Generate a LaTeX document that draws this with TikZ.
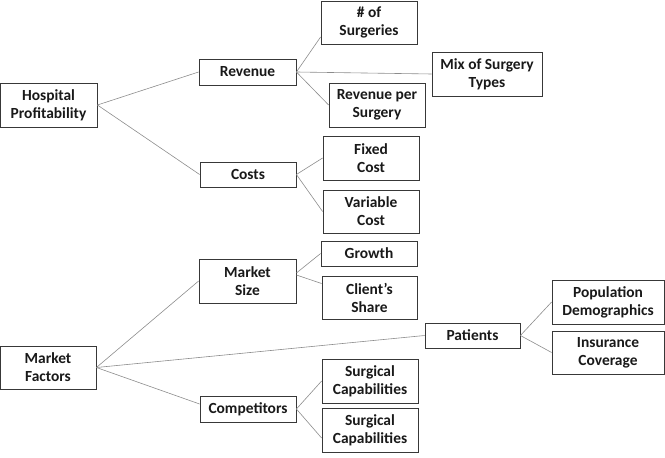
\documentclass[tikz,border=0pt]{standalone}
\usepackage{fontspec}
\setmainfont{Carlito}
\begin{document}
\begin{tikzpicture}[x=1bp,y=-1bp,
  box/.style={draw=black!78,line width=0.8bp,fill=white,font=\bfseries\fontsize{15.5}{18}\selectfont,
    align=center,inner sep=0pt,text=black!90},
  link/.style={draw=black!45,line width=0.6bp}]
\useasboundingbox (0,0) rectangle (665,458);
\node[box,minimum width=97bp,minimum height=44bp] (hp) at (48.5,105) {Hospital\\Profitability};
\node[box,minimum width=97bp,minimum height=26bp] (rev) at (247.5,72) {Revenue};
\node[box,minimum width=96bp,minimum height=25bp] (cost) at (248,174.5) {Costs};
\node[box,minimum width=96bp,minimum height=43bp] (nos) at (369,22.5) {\# of\\Surgeries};
\node[box,minimum width=110bp,minimum height=44bp] (mix) at (487,74) {Mix of Surgery\\Types};
\node[box,minimum width=96bp,minimum height=44bp] (rps) at (377,105) {Revenue per\\Surgery};
\node[box,minimum width=96bp,minimum height=44bp] (fix) at (371,158) {Fixed\\Cost};
\node[box,minimum width=96bp,minimum height=43bp] (var) at (371,211.5) {Variable\\Cost};
\node[box,minimum width=97bp,minimum height=44bp] (ms) at (247.5,281) {Market\\Size};
\node[box,minimum width=96bp,minimum height=43bp] (mf) at (48,367.5) {Market\\Factors};
\node[box,minimum width=96bp,minimum height=26bp] (comp) at (248,409) {Competitors};
\node[box,minimum width=96bp,minimum height=25bp] (gro) at (369,253.5) {Growth};
\node[box,minimum width=95bp,minimum height=43bp] (cs) at (369.5,297.5) {Client’s\\Share};
\node[box,minimum width=95bp,minimum height=25bp] (pat) at (472.5,335.5) {Patients};
\node[box,minimum width=112bp,minimum height=44bp] (pop) at (608,302) {Population\\Demographics};
\node[box,minimum width=112bp,minimum height=43bp] (ins) at (608,352.5) {Insurance\\Coverage};
\node[box,minimum width=96bp,minimum height=44bp] (sc1) at (370,381) {Surgical\\Capabilities};
\node[box,minimum width=96bp,minimum height=44bp] (sc2) at (370,430) {Surgical\\Capabilities};
\path[link] (hp.east) -- (rev.west);
\path[link] (hp.east) -- (cost.west);
\path[link] (rev.east) -- ([yshift=-14.5bp]nos.west);
\path[link] (rev.east) -- (mix.west);
\path[link] (rev.east) -- (rps.west);
\path[link] (cost.east) -- (fix.west);
\path[link] (cost.east) -- (var.west);
\path[link] (mf.east) -- (ms.west);
\path[link] (mf.east) -- (pat.west);
\path[link] (mf.east) -- ([yshift=5bp]comp.west);
\path[link] ([yshift=8bp]ms.east) -- (gro.west);
\path[link] ([yshift=6bp]ms.east) -- ([yshift=14bp]cs.west);
\path[link] (pat.east) -- (pop.west);
\path[link] (pat.east) -- (ins.west);
\path[link] (comp.east) -- (sc1.west);
\path[link] (comp.east) -- ([yshift=-8bp]sc2.west);
\end{tikzpicture}
\end{document}
